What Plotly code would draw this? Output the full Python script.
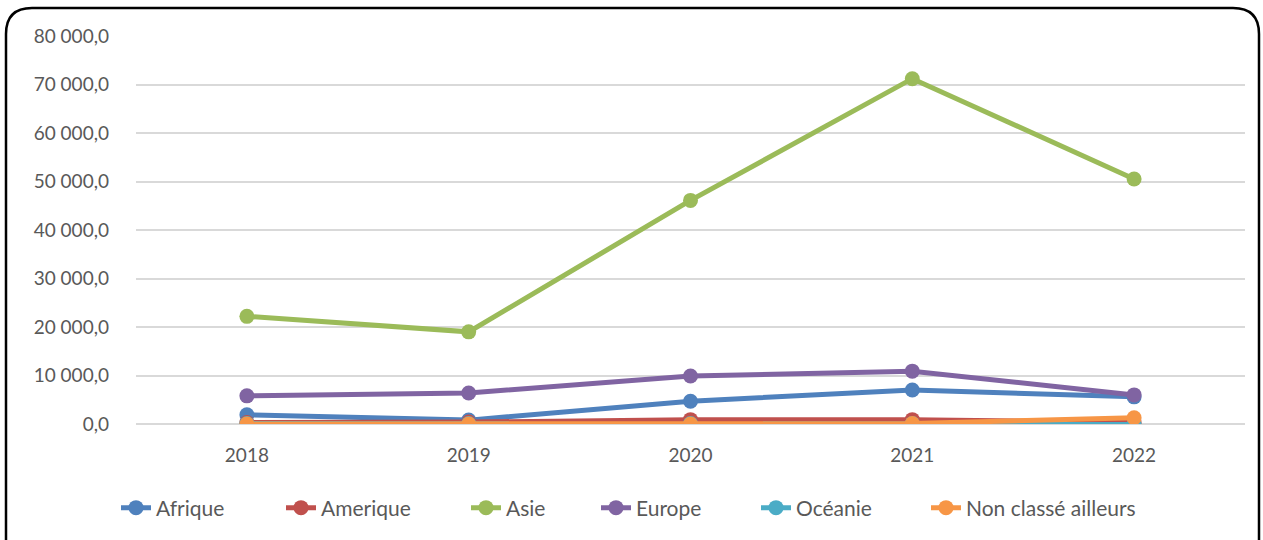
import plotly.graph_objects as go

# imports par continent
years = ["2018", "2019", "2020", "2021", "2022"]
afrique = [1900, 800, 4700, 7000, 5600]
amerique = [300, 400, 900, 900, 300]
asie = [22200, 19000, 46100, 71200, 50500]
europe = [5800, 6400, 9900, 10900, 6000]
oceanie = [100, 100, 100, 100, 0]
non_classe = [0, 0, 0, 100, 1300]

series = [
    ("Afrique", afrique, "#4F81BD"),
    ("Amerique", amerique, "#C0504D"),
    ("Asie", asie, "#9BBB59"),
    ("Europe", europe, "#8064A2"),
    ("Océanie", oceanie, "#4BACC6"),
    ("Non classé ailleurs", non_classe, "#F79646"),
]
tickvals = [0, 10000, 20000, 30000, 40000, 50000, 60000, 70000, 80000]
ticktext = ["0,0", "10 000,0", "20 000,0", "30 000,0", "40 000,0",
            "50 000,0", "60 000,0", "70 000,0", "80 000,0"]

W, H = 1263, 540
ml, mr, mt, mb = 136, 18, 36, 116

# cadre arrondi, en pixels convertis en coordonnees paper
pw, ph = W - ml - mr, H - mt - mb
def px_(x):
    return (x - ml) / pw
def py_(y):
    return (H - mb - y) / ph

# position gauche de chaque entree de legende (px)
leg_x = [122, 287, 472, 602, 762, 932]

fig = go.Figure()
for i, (name, vals, clr) in enumerate(series):
    lg = "legend" if i == 0 else f"legend{i + 1}"
    fig.add_trace(go.Scatter(x=years, y=vals, name=name,
                             mode="lines+markers",
                             line=dict(color=clr, width=5),
                             marker=dict(color=clr, size=15),
                             legend=lg))
    fig.update_layout({lg: dict(orientation="h", xanchor="left", x=px_(leg_x[i] - 6),
                                yanchor="middle", y=py_(508),
                                bgcolor="rgba(0,0,0,0)",
                                font=dict(size=21, color="#595959"))})

x0, x1, y0, y1, r = 6, 1259, 8, 560, 26
path = (f"M {px_(x0 + r)},{py_(y0)} L {px_(x1 - r)},{py_(y0)} "
        f"Q {px_(x1)},{py_(y0)} {px_(x1)},{py_(y0 + r)} "
        f"L {px_(x1)},{py_(y1)} L {px_(x0)},{py_(y1)} "
        f"L {px_(x0)},{py_(y0 + r)} Q {px_(x0)},{py_(y0)} {px_(x0 + r)},{py_(y0)} Z")
fig.add_shape(type="path", path=path, xref="paper", yref="paper",
              line=dict(color="black", width=2.5), layer="below")

fig.update_layout(
    width=W, height=H,
    margin=dict(l=ml, r=mr, t=mt, b=mb, autoexpand=False),
    paper_bgcolor="white", plot_bgcolor="white",
    font=dict(family="Lato, Open Sans, sans-serif", size=19, color="#595959"),
    showlegend=True,
    hovermode=False,
)
fig.update_xaxes(type="category", range=[-0.5, 4.5], showgrid=False,
                 showline=False, zeroline=False,
                 ticks="", tickfont=dict(size=19), ticklabelstandoff=18)
fig.update_yaxes(range=[0, 80000], tickvals=tickvals, ticktext=ticktext,
                 showgrid=True, gridcolor="#D9D9D9", gridwidth=1.5,
                 zeroline=True, zerolinecolor="#D9D9D9", zerolinewidth=1.5,
                 showline=False, ticks="", ticklabelstandoff=26)

fig.write_html("out.html", config={"displayModeBar": False},
               post_script="document.body.style.margin='0';")
